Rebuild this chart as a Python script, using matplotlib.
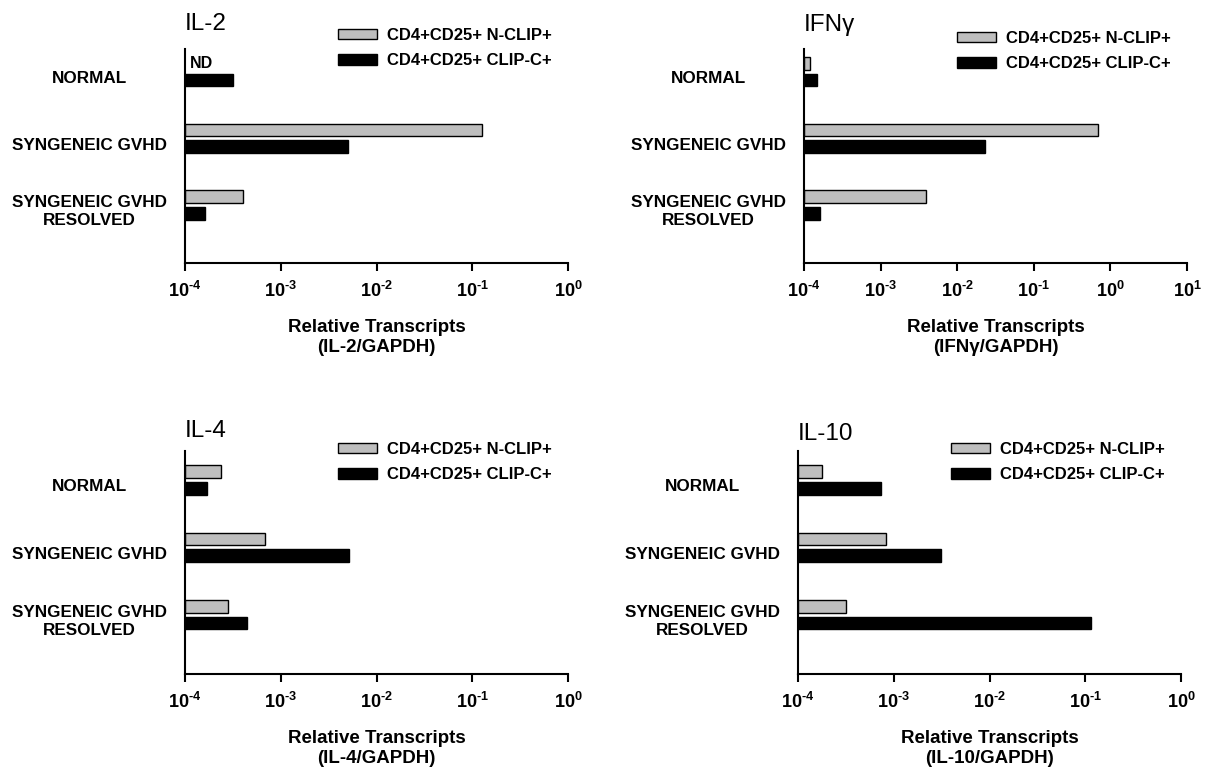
import numpy as np
import matplotlib
matplotlib.use("Agg")
import matplotlib.pyplot as plt
from matplotlib.ticker import LogLocator, FuncFormatter, NullLocator
from matplotlib.transforms import blended_transform_factory

plt.rcParams['font.family'] = ['Liberation Sans', 'DejaVu Sans']
plt.rcParams['mathtext.fontset'] = 'custom'
plt.rcParams['mathtext.rm'] = 'Liberation Sans:bold'
plt.rcParams['mathtext.bf'] = 'Liberation Sans:bold'
plt.rcParams['mathtext.default'] = 'rm'

# data (relative transcripts / GAPDH)
groups = ['NORMAL', 'SYNGENEIC GVHD', 'SYNGENEIC GVHD\nRESOLVED']
series = ['CD4+CD25+ N-CLIP+', 'CD4+CD25+ CLIP-C+']

il2_nclip = [np.nan, 0.125, 4.0e-4]     # NORMAL not detected (ND)
il2_clipc = [3.2e-4, 5.0e-3, 1.6e-4]
ifng_nclip = [1.18e-4, 0.69, 3.9e-3]
ifng_clipc = [1.5e-4, 0.023, 1.6e-4]
il4_nclip = [2.4e-4, 6.9e-4, 2.8e-4]
il4_clipc = [1.7e-4, 5.2e-3, 4.4e-4]
il10_nclip = [1.8e-4, 8.4e-4, 3.2e-4]
il10_clipc = [7.4e-4, 3.1e-3, 0.116]

# title, xlabel, series, xmax, axes box (px), title baseline (px), legend top (px)
panels = [
    ('IL-2', 'Relative Transcripts\n(IL-2/GAPDH)', il2_nclip, il2_clipc, 1e0,
     [185, 49, 568, 263], 30, 28),
    ('IFNγ', 'Relative Transcripts\n(IFNγ/GAPDH)', ifng_nclip, ifng_clipc, 1e1,
     [804, 49, 1187, 263], 31, 31),
    ('IL-4', 'Relative Transcripts\n(IL-4/GAPDH)', il4_nclip, il4_clipc, 1e0,
     [185, 451, 568, 674], 437, 442),
    ('IL-10', 'Relative Transcripts\n(IL-10/GAPDH)', il10_nclip, il10_clipc, 1e0,
     [798, 451, 1181, 674], 440, 442),
]

W, H = 1208, 769
fig = plt.figure(figsize=(W / 100, H / 100), dpi=100)

base = 1e-4
y = np.arange(len(groups))
bh = 0.19
off = 0.124


def fmt(v, pos):
    e = int(round(np.log10(v)))
    if e < 0:
        return r'$10^{\text{-}%d}$' % (-e)
    return r'$10^{%d}$' % e


for title, xlab, nclip, clipc, xmax, (x0, y0, x1, y1), tb, lt in panels:
    h = y1 - y0
    ax = fig.add_axes([x0 / W, 1 - y1 / H, (x1 - x0) / W, h / H])
    ax.set_xscale('log')
    nc = np.array(nclip, dtype=float)
    cc = np.array(clipc, dtype=float)
    ok = ~np.isnan(nc)
    ax.barh(y[ok] - off, nc[ok] - base, left=base, height=bh, color='#bebebe',
            edgecolor='black', linewidth=1.0, label=series[0])
    ax.barh(y + off, cc - base, left=base, height=bh, color='black',
            edgecolor='black', linewidth=1.0, label=series[1])
    for i in np.where(~ok)[0]:
        ax.text(base * 1.13, y[i] - off, 'ND', fontsize=11.5, fontweight='bold',
                va='center', ha='left')

    ax.set_xlim(base, xmax)
    if y0 < 100:
        ax.set_ylim(2.87, -0.34)
    else:
        ax.set_ylim(2.88, -0.43)
    ax.xaxis.set_major_locator(LogLocator(base=10, numticks=10))
    ax.xaxis.set_minor_locator(NullLocator())
    ax.xaxis.set_major_formatter(FuncFormatter(fmt))
    ax.set_yticks([])
    for s in ['top', 'right']:
        ax.spines[s].set_visible(False)
    for s in ['left', 'bottom']:
        ax.spines[s].set_linewidth(1.5)
    ax.tick_params(axis='x', direction='out', length=6, width=1.5, pad=7, labelsize=13)

    tr = blended_transform_factory(ax.transAxes, ax.transData)
    for i, g in enumerate(groups):
        ax.text(-0.25, y[i] + 0.1, g, transform=tr, ha='center', va='center',
                fontsize=12.3, fontweight='bold', multialignment='center',
                linespacing=1.25)

    ax.set_xlabel(xlab, fontsize=13.5, fontweight='bold', labelpad=13, linespacing=1.2)
    ax.text(0.0, 1 + (y0 - tb) / h, title, transform=ax.transAxes, fontsize=17.5,
            ha='left', va='baseline')
    ax.legend(loc='upper left', bbox_to_anchor=(0.40, 1 + (y0 - lt) / h), frameon=False,
              prop={'weight': 'bold', 'size': 12}, handlelength=2.35,
              handleheight=0.6, handletextpad=0.55, labelspacing=0.62,
              borderpad=0, borderaxespad=0)

fig.savefig('out.png', dpi=100)
